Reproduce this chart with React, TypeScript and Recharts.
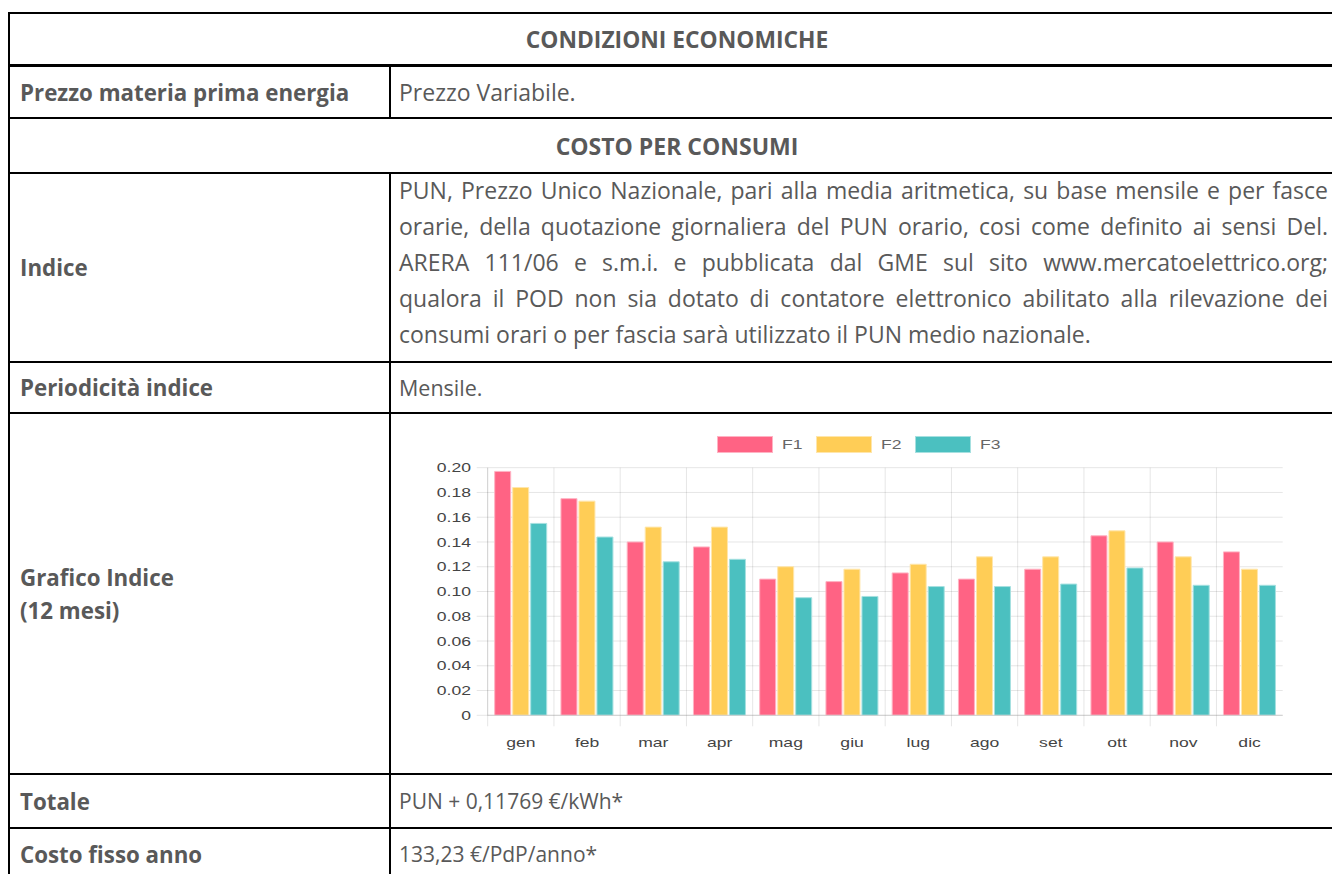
import React from 'react';
import {
  BarChart,
  Bar,
  XAxis,
  YAxis,
  CartesianGrid,
  Legend,
} from 'recharts';

// valori PUN per fascia (€/kWh)
const mesi = ['gen', 'feb', 'mar', 'apr', 'mag', 'giu', 'lug', 'ago', 'set', 'ott', 'nov', 'dic'];
const f1 = [0.197, 0.175, 0.140, 0.136, 0.110, 0.108, 0.115, 0.110, 0.118, 0.145, 0.140, 0.132];
const f2 = [0.184, 0.173, 0.152, 0.152, 0.120, 0.118, 0.122, 0.128, 0.128, 0.149, 0.128, 0.118];
const f3 = [0.155, 0.144, 0.124, 0.126, 0.095, 0.096, 0.104, 0.104, 0.106, 0.119, 0.105, 0.105];
const yTicks = [0, 0.02, 0.04, 0.06, 0.08, 0.1, 0.12, 0.14, 0.16, 0.18, 0.2];

const indiceRighe = [
  'PUN, Prezzo Unico Nazionale, pari alla media aritmetica, su base mensile e per fasce',
  'orarie, della quotazione giornaliera del PUN orario, cosi come definito ai sensi Del.',
  'ARERA 111/06 e s.m.i. e pubblicata dal GME sul sito www.mercatoelettrico.org;',
  'qualora il POD non sia dotato di contatore elettronico abilitato alla rilevazione dei',
  'consumi orari o per fascia sarà utilizzato il PUN medio nazionale.',
];

const data = mesi.map((m, i) => ({ name: m, F1: f1[i], F2: f2[i], F3: f3[i] }));

const CW = 890;
const CH = 340;
const M = { top: 42.7, right: 7.3, bottom: 9.7, left: 0 };
const YW = 87.7;
const XH = 40;
const plotBottom = CH - M.bottom - XH;
const band = (CW - M.left - M.right - YW) / mesi.length;

const chartFont = '"Liberation Sans", Arial, sans-serif';
const grid = 'rgba(0,0,0,0.1)';
const tickCol = '#444';

const XTick = (props: any) => {
  const { x, payload } = props;
  const bx = x - band / 2;
  return (
    <g>
      <line x1={bx} x2={bx} y1={plotBottom} y2={plotBottom + 11} stroke={grid} />
      <text
        transform={`translate(${x},${plotBottom + 31.4}) scale(1.35,1)`}
        textAnchor='middle'
        fontSize={13}
        fontFamily={chartFont}
        fill={tickCol}
      >
        {payload.value}
      </text>
    </g>
  );
};

const YTick = (props: any) => {
  const { x, y, payload } = props;
  const v = payload.value;
  return (
    <text
      transform={`translate(${x},${y}) scale(1.35,1)`}
      textAnchor='end'
      dy={4.6}
      fontSize={13}
      fontFamily={chartFont}
      fill={tickCol}
    >
      {v === 0 ? '0' : v.toFixed(2)}
    </text>
  );
};

const bordi: Record<string, string> = { F1: '#ffb3c3', F2: '#ffe6ab', F3: '#a6e0e0' };

const LegendContent = (props: any) => {
  const { payload } = props;
  return (
    <div style={{ display: 'flex', justifyContent: 'center', fontFamily: chartFont }}>
      {payload.map((p: any, i: number) => (
        <div key={p.value} style={{ display: 'flex', alignItems: 'center', marginLeft: i ? 17 : 0 }}>
          <div
            style={{
              width: 56,
              height: 17,
              boxSizing: 'border-box',
              background: p.color,
              border: `1px solid ${bordi[p.value]}`,
            }}
          />
          <span
            style={{
              display: 'inline-block',
              width: 17,
              marginLeft: 9,
              fontSize: 13,
              color: '#666',
              transform: 'scaleX(1.35)',
              transformOrigin: 'left center',
              whiteSpace: 'nowrap',
            }}
          >
            {p.value}
          </span>
        </div>
      ))}
    </div>
  );
};

function Grafico() {
  return (
    <BarChart width={CW} height={CH} data={data} margin={M} barSize={16} barGap={2}>
      <CartesianGrid
        stroke={grid}
        verticalCoordinatesGenerator={({ offset }: any) =>
          mesi.map((_, i) => offset.left + (i * offset.width) / mesi.length)
        }
      />
      <XAxis
        dataKey='name'
        height={XH}
        tick={<XTick />}
        tickLine={false}
        axisLine={{ stroke: '#cfcfcf' }}
        interval={0}
      />
      <YAxis
        width={YW}
        domain={[0, 0.2]}
        ticks={yTicks}
        tick={<YTick />}
        tickSize={11}
        tickMargin={5.7}
        tickLine={{ stroke: grid }}
        axisLine={{ stroke: grid }}
      />
      <Legend
        verticalAlign='middle'
        align='center'
        content={<LegendContent />}
        wrapperStyle={{ top: 11, left: 0, width: 914, height: 17 }}
      />
      <Bar dataKey='F1' fill='#FF6384' stroke={bordi.F1} isAnimationActive={false} />
      <Bar dataKey='F2' fill='#FFCD56' stroke={bordi.F2} isAnimationActive={false} />
      <Bar dataKey='F3' fill='#4BC0C0' stroke={bordi.F3} isAnimationActive={false} />
    </BarChart>
  );
}

const txt = '#595959';
const font = '"Open Sans", "Noto Sans", sans-serif';

const hLines: [number, number][] = [
  [12, 2], [64, 3], [117, 2], [172, 2], [361, 2], [412, 2], [773, 2], [827, 2],
];

function Cella({ top, height, left, width, bold, center, size, children }: any) {
  return (
    <div
      style={{
        position: 'absolute',
        top,
        left,
        width,
        height,
        display: 'flex',
        flexDirection: 'column',
        justifyContent: 'center',
        alignItems: center ? 'center' : 'flex-start',
        fontWeight: bold ? 700 : 400,
        fontSize: size || (bold ? 22.3 : 21),
        color: txt,
        fontFamily: font,
        whiteSpace: 'nowrap',
        boxSizing: 'border-box',
      }}
    >
      {children}
    </div>
  );
}

export default function App() {
  const L = 20;
  const R = 399;
  return (
    <div
      style={{
        position: 'absolute',
        left: 0,
        top: 0,
        width: 1332,
        height: 874,
        overflow: 'hidden',
        background: '#fff',
      }}
    >
      {hLines.map(([y, t]) => (
        <div key={y} style={{ position: 'absolute', left: 8, top: y, width: 1340, height: t, background: '#000' }} />
      ))}
      <div style={{ position: 'absolute', left: 8, top: 12, width: 2, height: 870, background: '#000' }} />
      <div style={{ position: 'absolute', left: 389, top: 64, width: 2, height: 55, background: '#000' }} />
      <div style={{ position: 'absolute', left: 389, top: 172, width: 2, height: 710, background: '#000' }} />

      <Cella top={14} height={50} left={10} width={1334} bold center size={22.8}>CONDIZIONI ECONOMICHE</Cella>
      <Cella top={67} height={50} left={L} width={360} bold>Prezzo materia prima energia</Cella>
      <Cella top={67} height={50} left={R} width={930} size={23}>Prezzo Variabile.</Cella>
      <Cella top={119} height={53} left={10} width={1334} bold center size={23}>COSTO PER CONSUMI</Cella>
      <Cella top={174} height={187} left={L} width={360} bold>Indice</Cella>
      <div
        style={{
          position: 'absolute',
          top: 172,
          left: R,
          width: 929,
          fontFamily: font,
          fontSize: 23,
          lineHeight: '36px',
          color: txt,
        }}
      >
        {indiceRighe.map((r, i) => (
          <div
            key={i}
            style={{
              textAlign: 'justify',
              textAlignLast: i < indiceRighe.length - 1 ? 'justify' : 'left',
              whiteSpace: 'nowrap',
            }}
          >
            {r}
          </div>
        ))}
      </div>
      <Cella top={363} height={49} left={L} width={360} bold>Periodicità indice</Cella>
      <Cella top={363} height={49} left={R} width={930} size={21.5}>Mensile.</Cella>
      <Cella top={414} height={359} left={L} width={360} bold>
        <div style={{ lineHeight: '33px' }}>Grafico Indice</div>
        <div style={{ lineHeight: '33px' }}>(12 mesi)</div>
      </Cella>
      <div style={{ position: 'absolute', left: 400, top: 425 }}>
        <Grafico />
      </div>
      <Cella top={775} height={52} left={L} width={360} bold>Totale</Cella>
      <Cella top={775} height={52} left={R} width={930} size={21}>PUN + 0,11769 €/kWh*</Cella>
      <Cella top={829} height={50} left={L} width={360} bold>Costo fisso anno</Cella>
      <Cella top={829} height={50} left={R} width={930} size={21}>133,23 €/PdP/anno*</Cella>
    </div>
  );
}
